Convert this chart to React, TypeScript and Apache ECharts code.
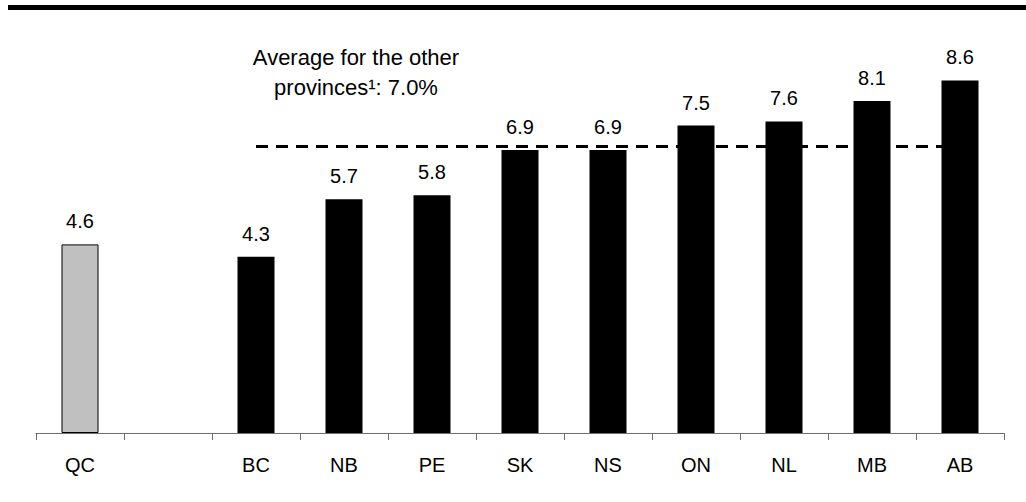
import React, { useEffect, useRef } from "react";
import * as echarts from "echarts";

const categories = ["QC", "", "BC", "NB", "PE", "SK", "NS", "ON", "NL", "MB", "AB"];
const values: (number | null)[] = [4.6, null, 4.3, 5.7, 5.8, 6.9, 6.9, 7.5, 7.6, 8.1, 8.6];
const highlightCategory = "QC";
const averageValue = 7.0;
const averageLabelLines = ["Average for the other", "provinces\u00B9: 7.0%"];
const lineStartCategory = "BC";
const lineEndCategory = "AB";

const FONT = "'Liberation Sans', Arial, Helvetica, sans-serif";

export default function App() {
  const ref = useRef<HTMLDivElement>(null);

  useEffect(() => {
    document.body.style.margin = "0";
    const chart = echarts.init(ref.current!, null, { renderer: "svg" });
    const data = values.map((v, i) =>
      v === null
        ? null
        : categories[i] === highlightCategory
        ? {
            value: v,
            itemStyle: { color: "#C0C0C0", borderColor: "#000", borderWidth: 1 },
          }
        : { value: v, itemStyle: { color: "#000" } }
    );
    chart.setOption({
      animation: false,
      backgroundColor: "#fff",
      grid: { left: 36, right: 22, top: 23, bottom: 69 },
      xAxis: {
        type: "category",
        data: categories,
        axisLine: { lineStyle: { color: "#6e6e6e", width: 1 } },
        axisTick: { show: true, length: 7, alignWithLabel: false, lineStyle: { color: "#6e6e6e" } },
        axisLabel: { color: "#000", fontFamily: FONT, fontSize: 20, margin: 22, interval: 0 },
      },
      yAxis: {
        type: "value",
        min: 0,
        max: 10,
        show: false,
        splitLine: { show: false },
      },
      graphic: [
        {
          type: "rect",
          shape: { x: 8, y: 5, width: 1018, height: 5 },
          style: { fill: "#000" },
        },
        {
          type: "text",
          x: 356,
          y: 72,
          style: {
            text: averageLabelLines.join("\n"),
            fill: "#000",
            font: `22px ${FONT}`,
            lineHeight: 30,
            textAlign: "center",
            textVerticalAlign: "middle",
          },
        },
      ],
      series: [
        {
          type: "bar",
          data,
          barWidth: 37,
          label: {
            show: true,
            position: "top",
            distance: 13,
            color: "#000",
            fontFamily: FONT,
            fontSize: 20,
            formatter: (p: any) => Number(p.value).toFixed(1),
          },
          markLine: {
            silent: true,
            symbol: "none",
            label: { show: false },
            lineStyle: { color: "#000", width: 3, type: [12, 8] },
            data: [
              [
                { coord: [lineStartCategory, averageValue] },
                { coord: [lineEndCategory, averageValue] },
              ],
            ],
          },
        },
      ],
    });
    return () => chart.dispose();
  }, []);

  return <div ref={ref} style={{ width: 1026, height: 502 }} />;
}
